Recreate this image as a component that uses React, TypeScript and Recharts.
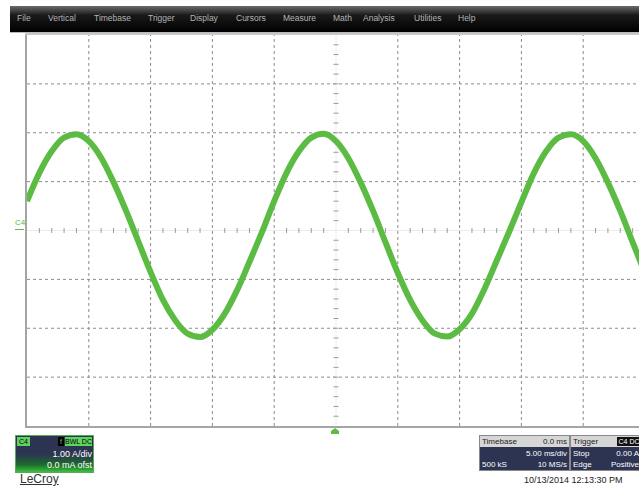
import React from 'react';
import { LineChart, Line, XAxis, YAxis, ReferenceLine } from 'recharts';

// time axis: 5 ms/div, 10 divisions, one sample every 1 ms
const timeMs = [
  -25, -24, -23, -22, -21, -20, -19, -18, -17, -16,
  -15, -14, -13, -12, -11, -10, -9, -8, -7, -6,
  -5, -4, -3, -2, -1, 0, 1, 2, 3, 4,
  5, 6, 7, 8, 9, 10, 11, 12, 13, 14,
  15, 16, 17, 18, 19, 20, 21, 22, 23, 24, 25,
];

// C4 current, 1.00 A/div
const currentA = [
  0.6, 1.18, 1.62, 1.9, 1.97, 1.83, 1.49, 0.99, 0.41, -0.22,
  -0.85, -1.42, -1.84, -2.11, -2.18, -2.03, -1.7, -1.22, -0.64, -0.04,
  0.6, 1.18, 1.62, 1.9, 1.98, 1.83, 1.48, 0.98, 0.4, -0.24,
  -0.87, -1.42, -1.84, -2.11, -2.17, -2.02, -1.7, -1.2, -0.62, -0.03,
  0.58, 1.17, 1.62, 1.9, 1.97, 1.83, 1.48, 0.98, 0.4, -0.24, -0.87,
];

const menuItems = ['File', 'Vertical', 'Timebase', 'Trigger', 'Display', 'Cursors', 'Measure', 'Math', 'Analysis', 'Utilities', 'Help'];
const menuX = [17, 48, 94, 148, 190, 236, 283, 333, 363, 414, 458];

const xGrid = [-20, -15, -10, -5, 5, 10, 15, 20];
const yGrid = [-3, -2, -1, 1, 2, 3];
const xMinor = timeMs.filter((t) => t % 5 !== 0);
const yMinor = [-3.8, -3.6, -3.4, -3.2, -3, -2.8, -2.6, -2.4, -2.2, -2, -1.8, -1.6, -1.4, -1.2, -1, -0.8, -0.6, -0.4, -0.2,
  0.2, 0.4, 0.6, 0.8, 1, 1.2, 1.4, 1.6, 1.8, 2, 2.2, 2.4, 2.6, 2.8, 3, 3.2, 3.4, 3.6, 3.8];

const data = timeMs.map((t, i) => ({ t, i: currentA[i] }));

const font = '"Liberation Sans", Arial, sans-serif';
const navy = '#2c3451';

const abs = (s: React.CSSProperties): React.CSSProperties => ({ position: 'absolute', ...s });

export default function App() {
  return (
    <div style={abs({ left: 0, top: 0, width: 639, height: 488, background: '#fff', overflow: 'hidden', fontFamily: font })}>
      {/* menu bar */}
      <div style={abs({ left: 10, top: 6, width: 640, height: 26, background: 'linear-gradient(#6b6b6b 0%, #1a1a1a 35%, #000 100%)' })} />
      {menuItems.map((m, k) => (
        <div key={m} style={abs({ left: menuX[k], top: 13, fontSize: 8.5, color: '#b4b4b4', whiteSpace: 'nowrap' })}>{m}</div>
      ))}
      <div style={abs({ left: 10, top: 32, width: 640, height: 1, background: '#bbb' })} />

      {/* grid frame */}
      <div style={abs({ left: 25, top: 33, width: 2, height: 395, background: '#a5a5a5' })} />
      <div style={abs({ left: 25, top: 33, width: 620, height: 2, background: '#c8c8c8' })} />
      <div style={abs({ left: 25, top: 426, width: 620, height: 2, background: '#a5a5a5' })} />

      <div style={abs({ left: 27, top: 35, width: 618, height: 391 })}>
        <LineChart width={618} height={391} data={data} margin={{ top: 0, right: 0, bottom: 0, left: 0 }}>
          <XAxis dataKey="t" type="number" domain={[-25, 25]} hide />
          <YAxis type="number" domain={[-4, 4]} hide />
          {xGrid.map((x) => (
            <ReferenceLine key={'vx' + x} x={x} stroke="#8c8c8c" strokeDasharray="3 3" ifOverflow="hidden" />
          ))}
          {yGrid.map((y) => (
            <ReferenceLine key={'hy' + y} y={y} stroke="#8c8c8c" strokeDasharray="3 3" ifOverflow="hidden" />
          ))}
          <ReferenceLine x={0} stroke="#ececec" />
          <ReferenceLine y={0} stroke="#ececec" />
          {xMinor.map((x) => (
            <ReferenceLine key={'mx' + x} segment={[{ x, y: -0.05 }, { x, y: 0.05 }]} stroke="#9a9a9a" />
          ))}
          {yMinor.map((y) => (
            <ReferenceLine key={'my' + y} segment={[{ x: -0.2, y }, { x: 0.2, y }]} stroke="#9a9a9a" />
          ))}
          <Line
            dataKey="i"
            type="monotone"
            stroke="#5cbb42"
            strokeWidth={6}
            strokeLinejoin="round"
            dot={false}
            isAnimationActive={false}
          />
        </LineChart>
      </div>

      {/* channel ground marker */}
      <div style={abs({ left: 15, top: 218, fontSize: 8, color: '#5cbb42', lineHeight: '9px' })}>C4</div>
      <div style={abs({ left: 15, top: 229, width: 9, height: 1, background: '#5cbb42' })} />

      {/* trigger position marker */}
      <svg style={abs({ left: 331, top: 428, width: 8, height: 6 })} width={8} height={6}>
        <polygon points="4,0 8,3 8,6 0,6 0,3" fill="#5cbb42" />
      </svg>

      {/* channel descriptor */}
      <div style={abs({ left: 15, top: 435, width: 77, height: 36, border: '1px solid #5aa85a', background: `linear-gradient(${navy} 0%, ${navy} 50%, #1e6b2c 80%, #3cc03c 100%)` })}>
        <div style={abs({ left: 1, top: 1, width: 13, height: 9, background: '#5fd35f', fontSize: 7, lineHeight: '9px', color: '#000', textAlign: 'center' })}>C4</div>
        <div style={abs({ left: 42, top: 1, width: 6, height: 9, background: '#000', fontSize: 7, lineHeight: '9px', color: '#5fd35f', textAlign: 'center' })}>f</div>
        <div style={abs({ left: 49, top: 1, width: 27, height: 9, background: '#5fd35f', fontSize: 7, lineHeight: '9px', color: '#000', textAlign: 'center' })}>BWL DC</div>
        <div style={abs({ right: 1, top: 13, fontSize: 9, color: '#fff', whiteSpace: 'nowrap' })}>1.00 A/div</div>
        <div style={abs({ right: 1, top: 24, fontSize: 9, color: '#fff', whiteSpace: 'nowrap' })}>0.0 mA ofst</div>
      </div>
      <div style={abs({ left: 20, top: 472, fontSize: 12, color: '#333', textDecoration: 'underline' })}>LeCroy</div>

      {/* timebase descriptor */}
      <div style={abs({ left: 479, top: 435, width: 89, height: 34, border: '1px solid #888', background: navy, fontSize: 8, color: '#fff' })}>
        <div style={abs({ left: 0, top: 0, width: 89, height: 11, background: '#d6d6d6' })} />
        <div style={abs({ left: 2, top: 0, color: '#222', lineHeight: '11px' })}>Timebase</div>
        <div style={abs({ right: 2, top: 0, color: '#222', lineHeight: '11px' })}>0.0 ms</div>
        <div style={abs({ right: 2, top: 12, lineHeight: '11px' })}>5.00 ms/div</div>
        <div style={abs({ left: 2, top: 23, lineHeight: '11px' })}>500 kS</div>
        <div style={abs({ right: 2, top: 23, lineHeight: '11px' })}>10 MS/s</div>
      </div>

      {/* trigger descriptor */}
      <div style={abs({ left: 570, top: 435, width: 80, height: 34, border: '1px solid #888', background: navy, fontSize: 8, color: '#fff' })}>
        <div style={abs({ left: 0, top: 0, width: 80, height: 11, background: '#d6d6d6' })} />
        <div style={abs({ left: 2, top: 0, color: '#222', lineHeight: '11px' })}>Trigger</div>
        <div style={abs({ left: 46, top: 1, width: 24, height: 9, background: '#111', color: '#fff', lineHeight: '9px', fontSize: 7, textAlign: 'center' })}>C4 DC</div>
        <div style={abs({ left: 2, top: 12, lineHeight: '11px' })}>Stop</div>
        <div style={abs({ right: 12, top: 12, lineHeight: '11px' })}>0.00 A</div>
        <div style={abs({ left: 2, top: 23, lineHeight: '11px' })}>Edge</div>
        <div style={abs({ right: 12, top: 23, lineHeight: '11px' })}>Positive</div>
      </div>
      <div style={abs({ left: 524, top: 475, fontSize: 9, color: '#222', whiteSpace: 'nowrap' })}>10/13/2014 12:13:30 PM</div>
    </div>
  );
}
